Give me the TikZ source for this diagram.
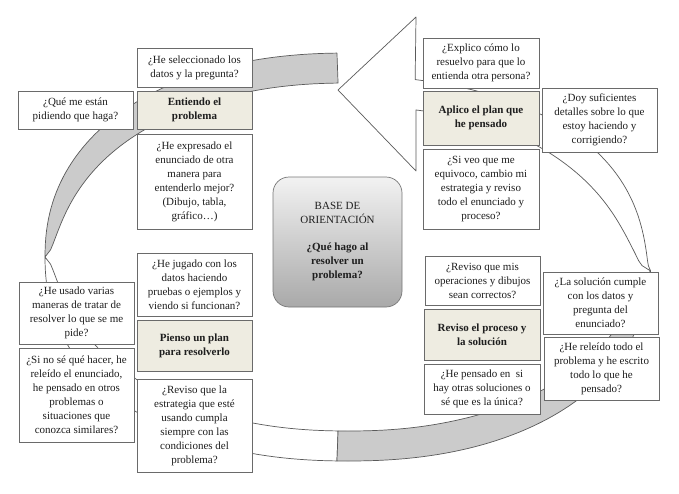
\documentclass[tikz,border=0pt]{standalone}
\usepackage{fontspec}
\setmainfont{Liberation Serif}
\definecolor{bandline}{HTML}{5A5A5A}
\definecolor{bandgray}{HTML}{CBCBCB}
\definecolor{boxline}{HTML}{6A6A6A}
\definecolor{beige}{HTML}{EEECE1}
\definecolor{txt}{HTML}{1E1E1E}
\definecolor{basetop}{HTML}{F2F2F2}
\definecolor{basebot}{HTML}{A9A9A9}
\begin{document}
\begin{tikzpicture}[x=1pt,y=-1pt,
  font=\fontsize{11}{14}\selectfont,
  declare function={
    sgp(\u)=(\u)*pow(abs(\u)+0.00001,-0.0909);
    spx(\t,\s)=348+(303-(\s))*sgp(cos(\t));
    spy(\t,\s)=257-(204-(\s))*sgp(sin(\t));
    ff(\d)=sqrt(max(0,sin(90*min(1,max(0,\d)/70))));
    cc(\t)=38*sqrt(max(0,sin(90*min(1,max(0,(\t)+3)/82))));
    hh(\t)=15*sqrt(max(0,sin(90*min(1,max(0,(\t)+3)/40))));
  },
  bandedge/.style={draw=bandline,line width=0.7pt,line join=round},
  greyband/.style={bandedge,fill=bandgray},
  whiteband/.style={bandedge,fill=white},
  qbox/.style={draw=boxline,fill=white,line width=0.7pt,align=center,inner sep=0pt,text=txt},
  kbox/.style={qbox,fill=beige,font=\fontsize{11}{14}\selectfont\bfseries},
  basebox/.style={draw=basebot!70!black,line width=0.7pt,rounded corners=16pt,
    top color=basetop,bottom color=basebot,align=center,inner sep=0pt,text=txt}
]
\useasboundingbox (0,0) rectangle (679,493);

% ---- circular ribbon arrow (background) ----
% upper-left, grey
\filldraw[greyband] plot[domain=91.5:180,samples=60,variable=\t] ({spx(\t,0)},{spy(\t,0)})
  -- plot[domain=180:91.5,samples=60,variable=\t] ({spx(\t,30*ff(180-\t))},{spy(\t,30*ff(180-\t))}) -- cycle;
% lower-left, white
\filldraw[whiteband] plot[domain=180:268.5,samples=60,variable=\t] ({spx(\t,0)},{spy(\t,0)})
  -- plot[domain=268.5:180,samples=60,variable=\t] ({spx(\t,30*ff(\t-180))},{spy(\t,30*ff(\t-180))}) -- cycle;
% lower-right, grey
\filldraw[greyband] plot[domain=268.5:357,samples=60,variable=\t] ({spx(\t,0)},{spy(\t,0)})
  -- plot[domain=357:268.5,samples=60,variable=\t] ({spx(\t,30*ff(357-\t))},{spy(\t,30*ff(357-\t))}) -- cycle;
% upper-right, white, with arrow head
\filldraw[whiteband] plot[domain=-3:78,samples=70,variable=\t] ({spx(\t,cc(\t)-hh(\t))},{spy(\t,cc(\t)-hh(\t))})
  -- (416,17) -- (338,90) -- (416,171) -- (416,110)
  -- plot[domain=76.2:-3,samples=70,variable=\t] ({spx(\t,cc(\t)+hh(\t))},{spy(\t,cc(\t)+hh(\t))}) -- cycle;

% ---- centre ----
\node[basebox,minimum width=129,minimum height=130] (base) at (337.5,242)
  {BASE DE\\ORIENTACIÓN\\[13pt]\textbf{¿Qué hago al}\\\textbf{resolver un}\\\textbf{problema?}};

% ---- Entiendo el problema ----
\node[qbox,minimum width=115,minimum height=39] (sel) at (194.5,67.5) {¿He seleccionado los\\datos y la pregunta?};
\node[kbox,minimum width=115,minimum height=38] (ent) at (194.5,110) {Entiendo el\\problema};
\node[qbox,minimum width=115,minimum height=38] (que) at (75.5,110) {¿Qué me están\\pidiendo que haga?};
\node[qbox,minimum width=115,minimum height=95] (exp) at (194.5,181.5) {¿He expresado el\\enunciado de otra\\manera para\\entenderlo mejor?\\(Dibujo, tabla,\\gráfico…)};

% ---- Pienso un plan ----
\node[qbox,minimum width=115,minimum height=63] (jug) at (194.5,284.5) {¿He jugado con los\\datos haciendo\\pruebas o ejemplos y\\viendo si funcionan?};
\node[kbox,minimum width=115,minimum height=51] (pie) at (194.5,345.5) {Pienso un plan\\para resolverlo};
\node[qbox,minimum width=115,minimum height=93] (rev) at (194.5,425.5) {¿Reviso que la\\estrategia que esté\\usando cumpla\\siempre con las\\condiciones del\\problema?};
\node[qbox,minimum width=115,minimum height=62] (usa) at (76.5,313) {¿He usado varias\\maneras de tratar de\\resolver lo que se me\\pide?};
\node[qbox,minimum width=115,minimum height=94] (sin) at (76.5,395) {¿Si no sé qué hacer, he\\releído el enunciado,\\he pensado en otros\\problemas o\\situaciones que\\conozca similares?};

% ---- Aplico el plan ----
\node[qbox,minimum width=116,minimum height=50] (exl) at (481,63) {¿Explico cómo lo\\resuelvo para que lo\\entienda otra persona?};
\node[kbox,minimum width=116,minimum height=54] (apl) at (481,118) {Aplico el plan que\\he pensado};
\node[qbox,minimum width=116,minimum height=80] (siv) at (481,189) {¿Si veo que me\\equivoco, cambio mi\\estrategia y reviso\\todo el enunciado y\\proceso?};
\node[qbox,minimum width=115,minimum height=64] (doy) at (599.5,120) {¿Doy suficientes\\detalles sobre lo que\\estoy haciendo y\\corrigiendo?};

% ---- Reviso el proceso ----
\node[qbox,minimum width=115,minimum height=49] (rmi) at (482.5,280.5) {¿Reviso que mis\\operaciones y dibujos\\sean correctos?};
\node[kbox,minimum width=116,minimum height=51] (rpr) at (482,334.5) {Reviso el proceso y\\la solución};
\node[qbox,minimum width=116,minimum height=50] (hep) at (482,389) {¿He pensado en \ si\\hay otras soluciones o\\sé que es la única?};
\node[qbox,minimum width=115,minimum height=62] (lsc) at (600.5,303) {¿La solución cumple\\con los datos y\\pregunta del\\enunciado?};
\node[qbox,minimum width=115,minimum height=63] (hre) at (601.5,368.5) {¿He releído todo el\\problema y he escrito\\todo lo que he\\pensado?};
\end{tikzpicture}
\end{document}
